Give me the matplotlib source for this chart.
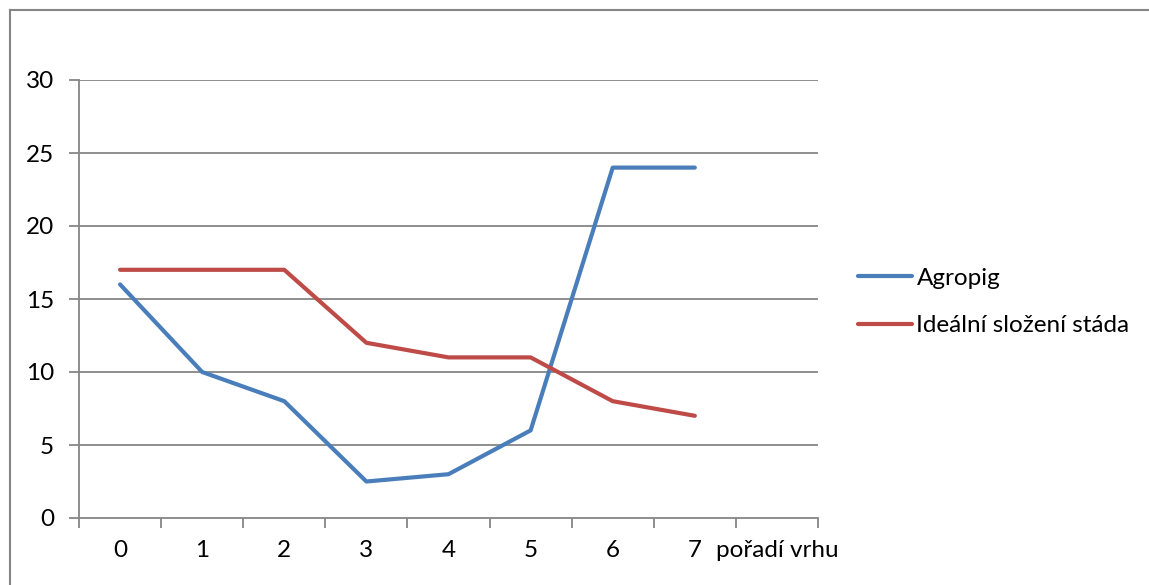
import matplotlib
matplotlib.use("Agg")
import matplotlib.pyplot as plt
from matplotlib.lines import Line2D

categories = ["0", "1", "2", "3", "4", "5", "6", "7", "pořadí vrhu"]
agropig = [16, 10, 8, 2.5, 3, 6, 24, 24]
idealni = [17, 17, 17, 12, 11, 11, 8, 7]
series_names = ["Agropig", "Ideální složení stáda"]
y_ticks = [0, 5, 10, 15, 20, 25, 30]

plt.rcParams["font.family"] = ["Lato", "DejaVu Sans"]

W, H = 1149, 585
fig = plt.figure(figsize=(W / 100, H / 100), dpi=100)

grey = "#868686"
blue = "#4A7EBB"
red = "#BE4B48"
fs = 17.5

# outer chart frame (top and left edges)
fig.add_artist(Line2D([10 / W, 1.0], [1 - 10 / H, 1 - 10 / H], transform=fig.transFigure,
                      color=grey, linewidth=1.5))
fig.add_artist(Line2D([10 / W, 10 / W], [0.0, 1 - 10 / H], transform=fig.transFigure,
                      color=grey, linewidth=1.5))

left, right, top, bottom = 79, 818, 80, 518
ax = fig.add_axes([left / W, 1 - bottom / H, (right - left) / W, (bottom - top) / H])

n = len(categories)
ax.set_xlim(0, n)
ax.set_ylim(0, 30)

x = [i + 0.5 for i in range(len(agropig))]
ax.plot(x, agropig, color=blue, linewidth=3, solid_capstyle="round", solid_joinstyle="round", zorder=3)
ax.plot(x, idealni, color=red, linewidth=3, solid_capstyle="round", solid_joinstyle="round", zorder=3)

for v in y_ticks[1:]:
    ax.axhline(v, color=grey, linewidth=1.3, zorder=1)

for s in ["top", "right"]:
    ax.spines[s].set_visible(False)
for s in ["left", "bottom"]:
    ax.spines[s].set_color(grey)
    ax.spines[s].set_linewidth(1.3)

ax.set_yticks(y_ticks)
ax.set_yticklabels([str(v) for v in y_ticks])
ax.set_xticks(range(n + 1))
ax.set_xticklabels([])
ax.set_xticks([i + 0.5 for i in range(n)], minor=True)
ax.set_xticklabels(categories, minor=True)
ax.tick_params(axis="x", which="major", length=7, width=1.3, color=grey, direction="out")
ax.tick_params(axis="x", which="minor", length=0, labelsize=fs, pad=16)
ax.tick_params(axis="y", length=7, width=1.3, color=grey, direction="out", labelsize=fs, pad=11)

handles = [Line2D([], [], color=blue, linewidth=3, solid_capstyle="round"),
           Line2D([], [], color=red, linewidth=3, solid_capstyle="round")]
fig.legend(handles, series_names, loc="center left",
           bbox_to_anchor=(846 / W, 1 - 302 / H), frameon=False, fontsize=fs,
           handlelength=2.2, handletextpad=0.2, labelspacing=1.1, borderpad=0)

fig.savefig("out.png", dpi=100)
